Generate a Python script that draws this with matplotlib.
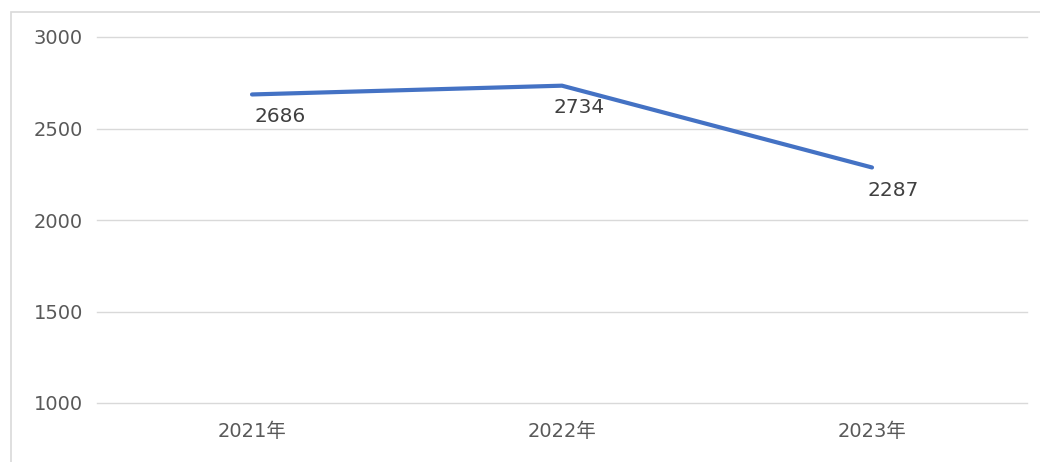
import matplotlib
matplotlib.use("Agg")
import matplotlib.pyplot as plt
from matplotlib.patches import Rectangle

plt.rcParams['font.family'] = ['DejaVu Sans', 'Noto Sans CJK SC']

categories = ['2021年', '2022年', '2023年']
values = [2686, 2734, 2287]
yticks = [1000, 1500, 2000, 2500, 3000]

fig = plt.figure(figsize=(10.4, 4.62), dpi=100)
fig.patch.set_facecolor('white')
# outer chart frame
fig.add_artist(Rectangle((11/1040, -0.05), 1.1, 1 - 12/462 + 0.05,
                         transform=fig.transFigure, fill=False,
                         edgecolor='#d9d9d9', linewidth=1.2))

ax = fig.add_axes([97/1040, 1 - 403/462, (1027 - 97)/1040, (403 - 37)/462])
x = list(range(len(categories)))
ax.plot(x, values, color='#4472C4', linewidth=3, solid_capstyle='round', zorder=3)
ax.set_xlim(-0.5, len(categories) - 0.5)
ax.set_ylim(1000, 3000)
ax.set_yticks(yticks)
ax.set_xticks(x)
ax.set_xticklabels(categories)
for s in ax.spines.values():
    s.set_visible(False)
ax.grid(axis='y', color='#d9d9d9', linewidth=1)
for gl in ax.get_ygridlines():
    gl.set_clip_on(False)
ax.set_axisbelow(True)
ax.tick_params(axis='y', length=0, pad=10, labelsize=14, labelcolor='#595959')
ax.tick_params(axis='x', length=0, pad=14, labelsize=14, labelcolor='#595959')

offsets = [(28, -22), (17, -22), (21, -23)]
for xi, v, off in zip(x, values, offsets):
    ax.annotate(str(v), (xi, v), xytext=(off[0] * 0.72, off[1] * 0.72),
                textcoords='offset points', ha='center', va='center',
                fontsize=14.5, color='#404040')

fig.savefig('out.png', dpi=100, facecolor='white')
